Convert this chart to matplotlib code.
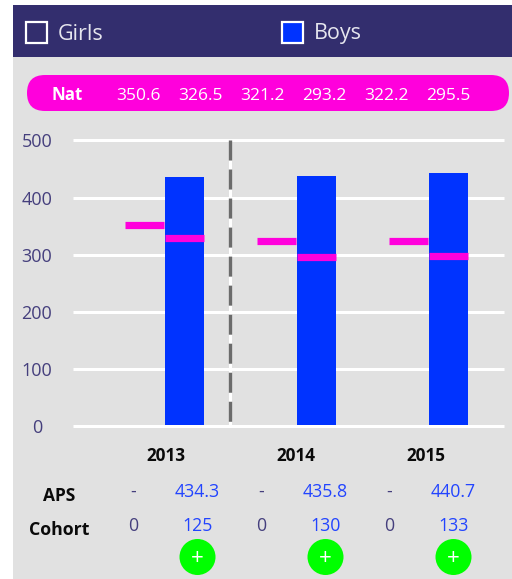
import matplotlib
matplotlib.use("Agg")
import matplotlib.pyplot as plt
from matplotlib.patches import Rectangle, FancyBboxPatch, Circle
from matplotlib.transforms import ScaledTranslation

plt.rcParams['font.family'] = ['Open Sans', 'DejaVu Sans']

years = ['2013', '2014', '2015']
boys_aps = [434.3, 435.8, 440.7]
girls_aps_labels = ['-', '-', '-']
boys_aps_labels = ['434.3', '435.8', '440.7']
nat_girls = [350.6, 321.2, 322.2]
nat_boys = [326.5, 293.2, 295.5]
nat_labels = ['350.6', '326.5', '321.2', '293.2', '322.2', '295.5']
cohort_girls = [0, 0, 0]
cohort_boys = [125, 130, 133]
y_ticks = [0, 100, 200, 300, 400, 500]

W, H = 512, 579
GRAY = '#e1e1e1'
NAVY = '#332e6e'
BLUE = '#0033ff'
PINK = '#ff00dc'
TICK = '#453f7d'
TXTBLUE = '#2244ff'

fig = plt.figure(figsize=(W/100, H/100), dpi=100, facecolor='white')

bg = fig.add_axes([0, 0, 1, 1])
bg.set_xlim(0, W); bg.set_ylim(H, 0); bg.axis('off')
bg.add_patch(Rectangle((13, 5), W-13, H-5, fc=GRAY, ec='none'))
bg.add_patch(Rectangle((13, 5), W-13, 52, fc=NAVY, ec='none'))

bg.add_patch(Rectangle((26, 22), 21, 21, fc=NAVY, ec='white', lw=1.6))
bg.text(57.5, 34, 'Girls', color='#e6e6ee', fontsize=15.5, va='center', ha='left')
bg.add_patch(Rectangle((282, 22), 21, 21, fc=BLUE, ec='white', lw=1.6))
bg.text(313.5, 34, 'Boys', color='#e6e6ee', fontsize=15.5, va='center', ha='left')

bg.add_patch(FancyBboxPatch((27, 75), 482, 36,
             boxstyle='round,pad=0,rounding_size=18',
             fc=PINK, ec='none'))
bg.text(67, 94.5, 'Nat', color='white', fontsize=12.2, fontweight='bold', ha='center', va='center')
for i, lab in enumerate(nat_labels):
    bg.text(138.5 + i*62, 96.5, lab, color='white', fontsize=12.5, ha='center', va='center')

L, R, T, B = 73, 504, 140.5, 425.7
ax = fig.add_axes([L/W, 1-B/H, (R-L)/W, (B-T)/H], facecolor='none')
px = 132.0
ax.set_xlim((L-165)/px, (R-165)/px)
ax.set_ylim(0, 500)
for s in ax.spines.values():
    s.set_visible(False)
ax.set_xticks([])
ax.set_yticks(y_ticks)
ax.tick_params(axis='y', length=0, pad=26, labelsize=13, labelcolor=TICK)
for t in ax.get_yticklabels():
    t.set_ha('center')
ax.grid(axis='y', color='white', lw=2.2, zorder=1, solid_capstyle='butt')
ax.set_axisbelow(True)
for g in ax.yaxis.get_gridlines():
    g.set_clip_on(False)

up = ax.transData + ScaledTranslation(0, 1/100, fig.dpi_scale_trans)
xs = range(len(years))
bars = ax.bar([x + 19.5/px for x in xs], boys_aps, width=39/px, color=BLUE, zorder=3)
for b in bars:
    b.set_transform(up)
ax.hlines(nat_girls, [x - 40/px for x in xs], [x - 1/px for x in xs],
          color=PINK, lw=5.2, zorder=4, capstyle='butt', transform=up)
ax.hlines(nat_boys, [x + 0/px for x in xs], [x + 39/px for x in xs],
          color=PINK, lw=5.2, zorder=4, capstyle='butt', transform=up)
sep = (230-165)/px
ax.plot([sep, sep], [0, 500], color='white', lw=2.2, zorder=2, solid_capstyle='butt')
ax.plot([sep, sep], [500, 0], color='#6b6b6b', lw=2.4, zorder=2.5,
        dashes=(20/3.33, 9/3.33), dash_capstyle='butt')

for i, y in enumerate(years):
    bg.text(166 + i*130, 456, y, color='#0a0a0a', fontsize=12.3, fontweight='bold', ha='center', va='center')

bg.text(59, 496, 'APS', color='#0a0a0a', fontsize=12.5, fontweight='bold', ha='center', va='center')
bg.text(59, 530, 'Cohort', color='#0a0a0a', fontsize=12.8, fontweight='bold', ha='center', va='center')

for i in range(3):
    gx = 133 + i*128
    bx = 197.5 + i*128
    bg.text(gx, 492, girls_aps_labels[i], color=TICK, fontsize=12.8, ha='center', va='center')
    bg.text(bx, 492, boys_aps_labels[i], color=TXTBLUE, fontsize=12.8, ha='center', va='center')
    bg.text(gx, 526, str(cohort_girls[i]), color=TICK, fontsize=12.8, ha='center', va='center')
    bg.text(bx, 526, str(cohort_boys[i]), color=TXTBLUE, fontsize=12.8, ha='center', va='center')
    bg.add_patch(Circle((bx, 557), 18, fc='#00ff00', ec='none'))
    bg.text(bx, 558, '+', color='white', fontsize=16, ha='center', va='center')

fig.savefig('out.png', dpi=100, facecolor='white')
